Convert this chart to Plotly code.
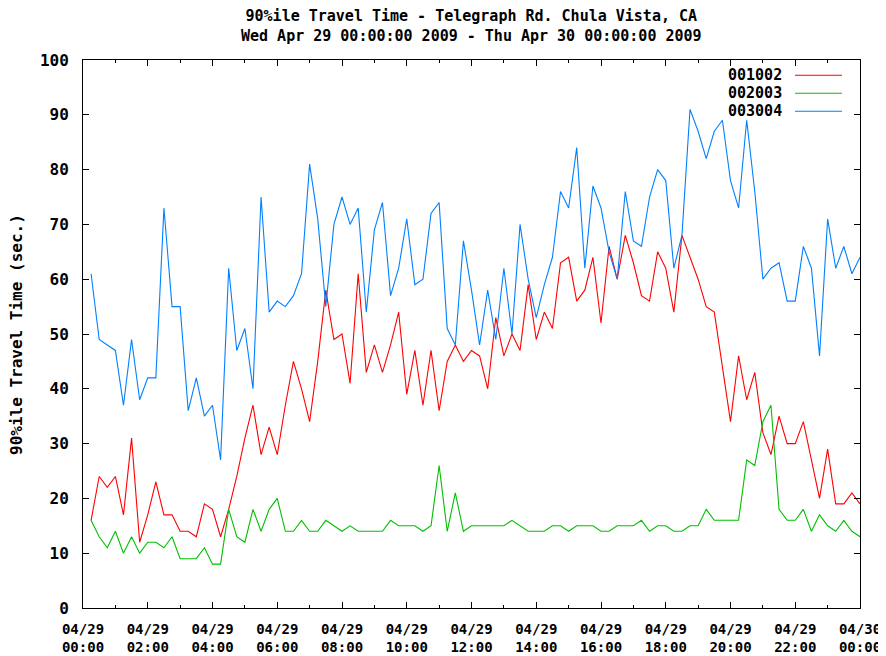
import pandas as pd
import plotly.graph_objects as go

# 15-minute samples, 00:15 .. 24:00 on 2009-04-29
times = pd.date_range("2009-04-29 00:15", "2009-04-30 00:00", freq="15min")

series_names = ["001002", "002003", "003004"]
series_colors = ["#ff0000", "#00c000", "#0080ff"]

s001002 = [16, 24, 22, 24, 17, 31, 12, 17, 23, 17, 17, 14, 14, 13, 19, 18, 13, 18, 24, 31,
           37, 28, 33, 28, 37, 45, 40, 34, 45, 58, 49, 50, 41, 61, 43, 48, 43, 48, 54, 39,
           47, 37, 47, 36, 45, 48, 45, 47, 46, 40, 53, 46, 50, 47, 59, 49, 54, 51, 63, 64,
           56, 58, 64, 52, 66, 60, 68, 63, 57, 56, 65, 62, 54, 68, 64, 60, 55, 54, 44, 34,
           46, 38, 43, 32, 28, 35, 30, 30, 34, 27, 20, 29, 19, 19, 21, 19]

s002003 = [16, 13, 11, 14, 10, 13, 10, 12, 12, 11, 13, 9, 9, 9, 11, 8, 8, 18, 13, 12,
           18, 14, 18, 20, 14, 14, 16, 14, 14, 16, 15, 14, 15, 14, 14, 14, 14, 16, 15, 15,
           15, 14, 15, 26, 14, 21, 14, 15, 15, 15, 15, 15, 16, 15, 14, 14, 14, 15, 15, 14,
           15, 15, 15, 14, 14, 15, 15, 15, 16, 14, 15, 15, 14, 14, 15, 15, 18, 16, 16, 16,
           16, 27, 26, 34, 37, 18, 16, 16, 18, 14, 17, 15, 14, 16, 14, 13]

s003004 = [61, 49, 48, 47, 37, 49, 38, 42, 42, 73, 55, 55, 36, 42, 35, 37, 27, 62, 47, 51,
           40, 75, 54, 56, 55, 57, 61, 81, 71, 55, 70, 75, 70, 73, 54, 69, 74, 57, 62, 71,
           59, 60, 72, 74, 51, 48, 67, 58, 48, 58, 49, 62, 50, 70, 60, 53, 59, 64, 76, 73,
           84, 62, 77, 73, 65, 60, 76, 67, 66, 75, 80, 78, 62, 68, 91, 87, 82, 87, 89, 78,
           73, 89, 76, 60, 62, 63, 56, 56, 66, 62, 46, 71, 62, 66, 61, 64]

all_series = [s001002, s002003, s003004]

y_ticks = [0, 10, 20, 30, 40, 50, 60, 70, 80, 90, 100]

title_lines = ["90%ile Travel Time - Telegraph Rd. Chula Vista, CA",
               "Wed Apr 29 00:00:00 2009 - Thu Apr 30 00:00:00 2009"]
y_title = "90%ile Travel Time (sec.)"

FONT = dict(family="DejaVu Sans Mono", size=16, color="black", weight="bold")
TFONT = dict(family="DejaVu Sans Mono", size=15, color="black", weight="bold")
XFONT = dict(family="DejaVu Sans Mono", size=14, color="black", weight="bold")
KEYFONT = dict(family="DejaVu Sans Mono", size=15, color="black", weight="bold")

# page has an 8px body margin: build the figure 8px smaller and work in figure coords
OFF = 8
W, H = 886 - OFF, 656 - OFF
PL, PR, PT, PB = 83 - OFF, 860 - OFF, 60 - OFF, 608 - OFF
PW, PH = PR - PL, PB - PT

fig = go.Figure()
for name, col, vals in zip(series_names, series_colors, all_series):
    fig.add_trace(go.Scatter(x=times, y=vals, mode="lines", name=name,
                             line=dict(color=col, width=1.1), showlegend=False))

# gnuplot-style key: text right-aligned, line sample to its right
for k, (name, col) in enumerate(zip(series_names, series_colors)):
    yk = 1 - (15.3 + 18 * k) / PH
    fig.add_annotation(xref="paper", yref="paper", x=(784 - OFF - PL) / PW, y=yk,
                       text=name, showarrow=False, xanchor="right", yanchor="middle",
                       font=KEYFONT)
    fig.add_shape(type="line", xref="paper", yref="paper",
                  x0=(795 - OFF - PL) / PW, x1=(842 - OFF - PL) / PW, y0=yk, y1=yk,
                  line=dict(color=col, width=1.1))

# two-line title
fig.add_annotation(xref="paper", yref="paper", x=0.5, y=1 + (PT - (25.5 - OFF)) / PH,
                   text="<br>".join(title_lines), showarrow=False,
                   xanchor="center", yanchor="middle", font=TFONT)

# y-axis title
fig.add_annotation(xref="paper", yref="paper", x=-(PL - (16 - OFF)) / PW,
                   y=(PB - (335 - OFF)) / PH,
                   text=y_title, showarrow=False, textangle=-90,
                   xanchor="center", yanchor="middle", font=FONT)

fig.update_layout(
    width=W, height=H,
    margin=dict(l=PL, r=W - PR, t=PT, b=H - PB, autoexpand=False),
    paper_bgcolor="white", plot_bgcolor="white",
    font=FONT,
)

fig.update_xaxes(
    type="date",
    range=["2009-04-29 00:00", "2009-04-30 00:00"],
    tick0="2009-04-29 00:00", dtick=7200000,
    tickformat="%m/%d<br>%H:%M",
    ticks="inside", ticklen=6, tickwidth=1, tickcolor="black",
    minor=dict(dtick=3600000, ticks="inside", ticklen=3, tickcolor="black", showgrid=False),
    showline=True, linecolor="black", linewidth=1, mirror="ticks",
    showgrid=False, zeroline=False, ticklabelstandoff=8, automargin=False,
    tickfont=XFONT,
)
fig.update_yaxes(
    range=[0, 100], tickvals=y_ticks,
    ticks="inside", ticklen=6, tickwidth=1, tickcolor="black",
    showline=True, linecolor="black", linewidth=1, mirror="ticks",
    showgrid=False, zeroline=False, ticklabelstandoff=10, automargin=False,
    tickfont=FONT,
)

fig.write_html("out.html")
